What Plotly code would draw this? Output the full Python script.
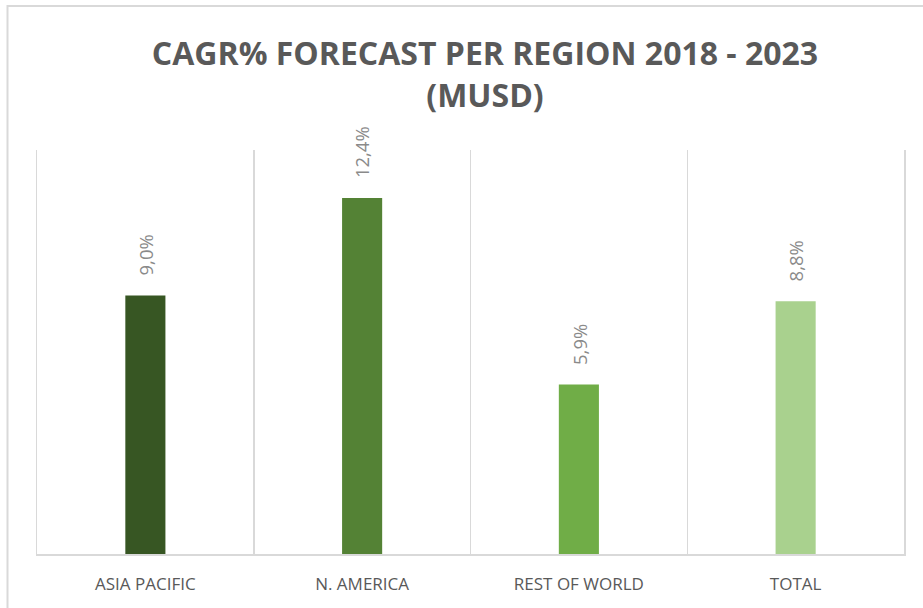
import plotly.graph_objects as go

categories = ["ASIA PACIFIC", "N. AMERICA", "REST OF WORLD", "TOTAL"]
cagr_values = [9.0, 12.4, 5.9, 8.8]
bar_colors = ["#375623", "#548235", "#70AD47", "#A9D18E"]
title_text = "CAGR% FORECAST PER REGION 2018 - 2023<br>(MUSD)"

W, H = 923, 608
L, R, T, B = 37, 19, 150, 54
PW, PH = W - L - R, H - T - B

labels = [f"{v:.1f}".replace(".", ",") + "%" for v in cagr_values]

fig = go.Figure()
fig.add_trace(go.Bar(
    x=categories, y=cagr_values,
    marker=dict(color=bar_colors, line=dict(width=0)),
    hoverinfo="skip",
))

for c, v, t in zip(categories, cagr_values, labels):
    fig.add_annotation(
        x=c, y=v, xref="x", yref="y", text=t, showarrow=False,
        textangle=-90, xanchor="center", yanchor="bottom", yshift=18,
        font=dict(family="Open Sans, sans-serif", size=18.5, color="#8a8a8a"),
    )

# outer chart border (top/left visible)
fig.add_shape(type="rect", xref="paper", yref="paper",
              x0=(7.5 - L) / PW, x1=1.3,
              y0=-0.5, y1=(PH + T - 6) / PH,
              line=dict(color="#d9d9d9", width=2), layer="below")

fig.update_layout(
    width=W, height=H,
    margin=dict(l=L, r=R, t=T, b=B, pad=0),
    paper_bgcolor="white", plot_bgcolor="white",
    bargap=0.815,
    showlegend=False,
    title=dict(
        text=title_text, x=485 / W, xanchor="center",
        y=1 - 65 / H, yanchor="top",
        font=dict(family="Open Sans, sans-serif", size=32, color="#595959", weight="bold"),
    ),
    xaxis=dict(
        type="category", tickson="boundaries", showgrid=True,
        gridcolor="#d9d9d9", gridwidth=1.5,
        showline=True, linecolor="#d9d9d9", linewidth=2,
        ticks="", ticklabelstandoff=14,
        tickfont=dict(family="Open Sans, sans-serif", size=17, color="#595959"),
        range=[-0.5, 3.5], fixedrange=True,
    ),
    yaxis=dict(
        range=[0, 14.07], showticklabels=False, showgrid=False, zeroline=False,
        showline=True, linecolor="#d9d9d9", linewidth=1.5, mirror=True,
        ticks="", fixedrange=True,
    ),
)

fig.write_html(
    "out.html",
    config={"displayModeBar": False, "staticPlot": True},
    post_script="document.body.style.margin='0';document.body.style.overflow='hidden';",
)
